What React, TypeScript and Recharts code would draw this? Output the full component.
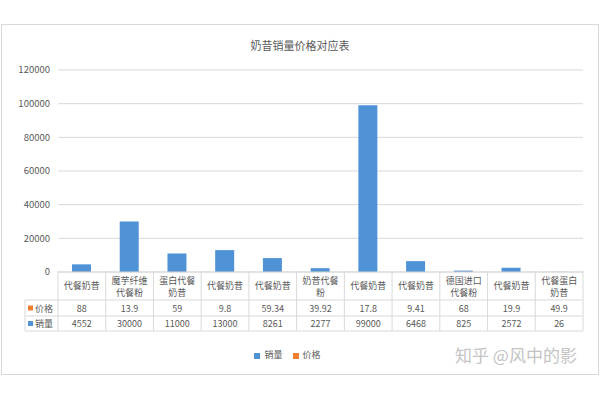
import { BarChart, Bar, XAxis, YAxis, CartesianGrid, Legend } from "recharts";

const categories = [
  "代餐奶昔",
  "魔芋纤维代餐粉",
  "蛋白代餐奶昔",
  "代餐奶昔",
  "代餐奶昔",
  "奶昔代餐粉",
  "代餐奶昔",
  "代餐奶昔",
  "德国进口代餐粉",
  "代餐奶昔",
  "代餐蛋白奶昔",
];
const prices = [88, 13.9, 59, 9.8, 59.34, 39.92, 17.8, 9.41, 68, 19.9, 49.9];
const sales = [4552, 30000, 11000, 13000, 8261, 2277, 99000, 6468, 825, 2572, 26];
const yTicks = [0, 20000, 40000, 60000, 80000, 100000, 120000];
const seriesOrder = ["销量", "价格"];

const data = categories.map((name, i) => ({ name, 销量: sales[i], 价格: prices[i] }));

const W = 596;
const H = 349;
const PLOT_LEFT = 56;
const PLOT_RIGHT = 581;
const PLOT_W = PLOT_RIGHT - PLOT_LEFT;
// table row edges (chart coords)
const T0 = 246;
const T1 = 275;
const T2 = 291;
const T3 = 306;
const HEAD_LEFT = 23;

const BLUE = "#4f93d6";
const ORANGE = "#ed7d31";
const LINE = "#d9d9d9";
const TXT = "#595959";
const FONT = "'Noto Sans CJK SC', 'Noto Sans', sans-serif";

const splitName = (s: string) => (s.length > 4 ? [s.slice(0, 4), s.slice(4)] : [s]);

const TableTick = ({ x, payload, index }: any) => {
  const cw = PLOT_W / categories.length;
  const left = x - cw / 2;
  const right = x + cw / 2;
  const lines = splitName(payload.value);
  const startY = lines.length > 1 ? 255 : (T0 + T1) / 2;
  return (
    <g fontFamily={FONT} fontSize={9} fill={TXT}>
      <line x1={right} x2={right} y1={T0} y2={T3} stroke={LINE} />
      <line x1={left} x2={right} y1={T1} y2={T1} stroke={LINE} />
      <line x1={left} x2={right} y1={T2} y2={T2} stroke={LINE} />
      <line x1={left} x2={right} y1={T3} y2={T3} stroke={LINE} />
      {index === 0 && (
        <g>
          <line x1={left} x2={left} y1={T0} y2={T3} stroke={LINE} />
          <line x1={HEAD_LEFT} x2={HEAD_LEFT} y1={T1} y2={T3} stroke={LINE} />
          <line x1={HEAD_LEFT} x2={left} y1={T1} y2={T1} stroke={LINE} />
          <line x1={HEAD_LEFT} x2={left} y1={T2} y2={T2} stroke={LINE} />
          <line x1={HEAD_LEFT} x2={left} y1={T3} y2={T3} stroke={LINE} />
          <rect x={HEAD_LEFT + 3} y={(T1 + T2) / 2 - 2.5} width={5} height={5} fill={ORANGE} />
          <text x={HEAD_LEFT + 10} y={(T1 + T2) / 2} dominantBaseline="central">价格</text>
          <rect x={HEAD_LEFT + 3} y={(T2 + T3) / 2 - 2.5} width={5} height={5} fill={BLUE} />
          <text x={HEAD_LEFT + 10} y={(T2 + T3) / 2} dominantBaseline="central">销量</text>
        </g>
      )}
      {lines.map((l, i) => (
        <text key={i} x={x} y={startY + i * 12} textAnchor="middle" dominantBaseline="central">
          {l}
        </text>
      ))}
      <text x={x} y={(T1 + T2) / 2} textAnchor="middle" dominantBaseline="central">
        {prices[index]}
      </text>
      <text x={x} y={(T2 + T3) / 2} textAnchor="middle" dominantBaseline="central">
        {sales[index]}
      </text>
    </g>
  );
};

export default function App() {
  return (
    <div
      style={{
        position: "absolute",
        left: 1,
        top: 24,
        width: W,
        height: H,
        border: `1px solid ${LINE}`,
        background: "#fff",
        fontFamily: FONT,
      }}
    >
      <div
        style={{
          position: "absolute",
          top: 12,
          left: 0,
          width: W,
          textAlign: "center",
          fontSize: 11,
          color: TXT,
        }}
      >
        奶昔销量价格对应表
      </div>
      <BarChart
        width={W}
        height={H}
        data={data}
        barGap={-19}
        margin={{ top: 45, right: W - PLOT_RIGHT, bottom: 29, left: 0 }}
      >
        <CartesianGrid vertical={false} stroke={LINE} />
        <XAxis
          dataKey="name"
          interval={0}
          height={60}
          axisLine={{ stroke: LINE }}
          tickLine={false}
          tick={<TableTick />}
        />
        <YAxis
          width={PLOT_LEFT}
          domain={[0, 120000]}
          ticks={yTicks}
          axisLine={false}
          tickLine={false}
          tick={{ fontSize: 9.5, fill: TXT, fontFamily: FONT }}
        />
        <Legend
          verticalAlign="bottom"
          align="center"
          iconType="square"
          iconSize={6}
          itemSorter={(item: any) => seriesOrder.indexOf(item.value)}
          wrapperStyle={{ fontSize: 9, color: TXT, fontFamily: FONT, bottom: 13 }}
          formatter={(v: any) => <span style={{ color: TXT }}>{v}</span>}
        />
        <Bar dataKey="销量" fill={BLUE} barSize={19} isAnimationActive={false} />
        <Bar dataKey="价格" fill={ORANGE} barSize={19} isAnimationActive={false} />
      </BarChart>
      <div
        style={{
          position: "absolute",
          left: 453,
          top: 317,
          fontSize: 17,
          color: "#c4c4c4",
          whiteSpace: "nowrap",
        }}
      >
        知乎 @风中的影
      </div>
    </div>
  );
}
